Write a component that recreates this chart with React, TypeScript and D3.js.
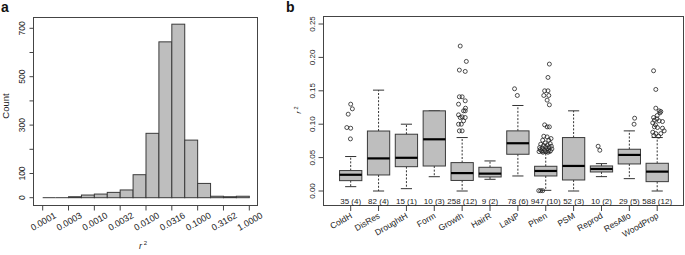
import React from 'react';
import * as d3 from 'd3';

// ---------- Panel a: histogram of r^2 (log10 bins) ----------
const binEdgesLog = [-4, -3.75, -3.5, -3.25, -3, -2.75, -2.5, -2.25, -2, -1.75, -1.5, -1.25, -1, -0.75, -0.5, -0.25, 0];
const histCounts = [0, 0, 4, 11, 15, 22, 32, 95, 266, 644, 717, 238, 59, 6, 4, 6];
const xTickLogA = [-4, -3.5, -3, -2.5, -2, -1.5, -1, -0.5, 0];
const xTickLabelsA = ['0.0001', '0.0003', '0.0010', '0.0032', '0.0100', '0.0316', '0.1000', '0.3162', '1.0000'];
const yTicksA = [0, 100, 200, 300, 400, 500, 600, 700];
const yTickLabelsA = ['0', '100', '', '300', '', '500', '', '700'];

// ---------- Panel b: boxplots by trait category ----------
const categories = ['ColdH', 'DisRes', 'DroughtH', 'Form', 'Growth', 'HairR', 'LaNP', 'Phen', 'PSM', 'Reprod', 'ResAllo', 'WoodProp'];
const nLabels = ['35 (4)', '82 (4)', '15 (1)', '10 (3)', '258 (12)', '9 (2)', '78 (6)', '947 (10)', '52 (3)', '10 (2)', '29 (5)', '588 (12)'];
const whiskerLow = [0.0065, 0.0, 0.0035, 0.0214, 0.0, 0.0175, 0.0225, 0.001, 0.0, 0.0215, 0.0185, 0.0];
const q1 = [0.0155, 0.024, 0.0364, 0.0374, 0.0158, 0.021, 0.055, 0.0225, 0.0165, 0.0285, 0.0405, 0.014];
const medians = [0.0243, 0.0488, 0.0497, 0.0774, 0.0268, 0.026, 0.0715, 0.030, 0.0375, 0.033, 0.054, 0.029];
const q3 = [0.0306, 0.0898, 0.085, 0.120, 0.0425, 0.0355, 0.090, 0.037, 0.080, 0.0375, 0.0625, 0.0415];
const whiskerHigh = [0.0516, 0.151, 0.100, 0.120, 0.080, 0.045, 0.128, 0.057, 0.120, 0.041, 0.090, 0.080];

// outliers per category: [value, horizontal jitter in category units]
const outColdH = [[0.130, 0.0], [0.123, 0.06], [0.115, -0.09], [0.095, -0.14], [0.094, 0.0], [0.078, -0.01]];
const outDisRes: number[][] = [];
const outDroughtH: number[][] = [];
const outForm: number[][] = [];
const outGrowth = [
  [0.217, -0.07], [0.194, 0.15], [0.181, -0.1], [0.179, 0.11], [0.141, -0.1], [0.141, 0.0], [0.135, 0.11],
  [0.130, -0.13], [0.124, 0.12], [0.120, 0.11], [0.120, 0.05], [0.114, -0.13], [0.111, 0.0], [0.110, 0.11],
  [0.110, -0.07], [0.105, 0.05], [0.100, -0.13], [0.100, -0.03], [0.090, -0.1], [0.090, 0.0],
];
const outHairR: number[][] = [];
const outLaNP = [[0.153, -0.12], [0.143, -0.02]];
const outPhen = [
  [0.190, 0.13], [0.170, 0.08], [0.150, -0.04], [0.150, 0.08], [0.143, -0.07], [0.143, 0.11], [0.136, 0.05],
  [0.129, 0.13], [0.099, -0.04], [0.096, 0.05], [0.096, 0.13], [0.082, -0.07], [0.081, 0.05], [0.0785, 0.19],
  [0.076, -0.11], [0.076, 0.11], [0.072, -0.02], [0.071, 0.16], [0.070, -0.18], [0.069, 0.06], [0.068, -0.08],
  [0.067, 0.2], [0.066, 0.0], [0.065, -0.22], [0.065, 0.12], [0.064, -0.12], [0.063, 0.04], [0.063, 0.22],
  [0.062, -0.2], [0.061, -0.05], [0.061, 0.1], [0.060, -0.15], [0.060, 0.17], [0.059, 0.0], [0.059, -0.24],
  [0.058, 0.08], [0.058, -0.1], [0.0005, -0.25], [0.0005, -0.18], [0.0005, -0.11],
];
const outPSM: number[][] = [];
const outReprod = [[0.067, -0.12], [0.061, -0.06]];
const outResAllo = [[0.109, 0.19], [0.100, 0.17]];
const outWoodProp = [
  [0.180, -0.13], [0.152, -0.05], [0.124, -0.05], [0.120, 0.07], [0.119, 0.13], [0.117, 0.1], [0.113, 0.0],
  [0.110, -0.13], [0.108, -0.01], [0.106, -0.1], [0.105, 0.07], [0.104, 0.19], [0.102, -0.16], [0.099, -0.06],
  [0.096, -0.1], [0.095, 0.01], [0.094, 0.19], [0.090, 0.25], [0.088, -0.16], [0.086, -0.05], [0.086, 0.13],
  [0.083, -0.12], [0.082, 0.05],
];
const outliers = [outColdH, outDisRes, outDroughtH, outForm, outGrowth, outHairR, outLaNP, outPhen, outPSM, outReprod, outResAllo, outWoodProp];
const yTicksB = [0, 0.05, 0.1, 0.15, 0.2, 0.25];

const FONT = 'Liberation Sans, Arial, Helvetica, sans-serif';
const AX = '#444';

export default function App() {
  // panel a scales
  const xA = d3.scaleLinear().domain([-4, 0]).range([42.7, 249.3]);
  const yA = d3.scaleLinear().domain([0, 700]).range([197.7, 28.3]);
  // panel b scales
  const xB = d3.scaleLinear().domain([1, 12]).range([350.7, 657.2]);
  const yB = d3.scaleLinear().domain([0, 0.25]).range([191, 24]);
  const slot = xB(2) - xB(1);
  const boxW = slot * 0.8;
  const capW = boxW * 0.5;

  return (
    <svg width={685} height={255} style={{ position: 'absolute', left: 0, top: 0, background: '#fff' }} fontFamily={FONT}>
      {/* ---------- panel a ---------- */}
      <text x={1} y={12} fontSize={14} fontWeight="bold" fill="#111">a</text>
      <rect x={33.5} y={17.5} width={224} height={188} fill="none" stroke={AX} strokeWidth={1} />
      {histCounts.map((c, i) => {
        const x0 = xA(binEdgesLog[i]);
        const x1 = xA(binEdgesLog[i + 1]);
        return c === 0 ? (
          <line key={i} x1={x0} x2={x1} y1={yA(0)} y2={yA(0)} stroke="#3a3a3a" strokeWidth={1} />
        ) : (
          <rect key={i} x={x0} y={yA(c)} width={x1 - x0} height={yA(0) - yA(c)} fill="#bebebe" stroke="#3a3a3a" strokeWidth={1} />
        );
      })}
      {yTicksA.map((t, i) => (
        <g key={i}>
          <line x1={29.5} x2={33.5} y1={yA(t)} y2={yA(t)} stroke={AX} />
          {yTickLabelsA[i] && (
            <text transform={`translate(25,${yA(t)}) rotate(-90)`} textAnchor="middle" fontSize={8.5} fill="#222">{yTickLabelsA[i]}</text>
          )}
        </g>
      ))}
      <text transform="translate(9,106) rotate(-90)" textAnchor="middle" fontSize={9.5} fill="#222">Count</text>
      {xTickLogA.map((t, i) => (
        <g key={i}>
          <line x1={xA(t)} x2={xA(t)} y1={205.5} y2={210.5} stroke={AX} />
          <text transform={`translate(${xA(t) + 1},${222}) rotate(-30)`} textAnchor="middle" dominantBaseline="middle" fontSize={9} fill="#222">{xTickLabelsA[i]}</text>
        </g>
      ))}
      <text x={143} y={249} textAnchor="middle" fontSize={9} fill="#222">
        <tspan fontStyle="italic">r</tspan>
        <tspan fontSize={6} dy={-4}> 2</tspan>
      </text>

      {/* ---------- panel b ---------- */}
      <text x={286} y={12} fontSize={14} fontWeight="bold" fill="#111">b</text>
      <rect x={323.5} y={16.5} width={360} height={189} fill="none" stroke={AX} strokeWidth={1} />
      {yTicksB.map((t, i) => (
        <g key={i}>
          <line x1={318.5} x2={323.5} y1={yB(t)} y2={yB(t)} stroke={AX} />
          <text transform={`translate(314.5,${yB(t)}) rotate(-90)`} textAnchor="middle" fontSize={8} fill="#222">{t.toFixed(2)}</text>
        </g>
      ))}
      <text transform="translate(301,110) rotate(-90)" textAnchor="middle" fontSize={8} fill="#222">
        <tspan fontStyle="italic">r</tspan>
        <tspan fontSize={5.5} dy={-3.5}> 2</tspan>
      </text>
      {categories.map((c, i) => {
        const cx = xB(i + 1);
        return (
          <g key={c}>
            {/* whiskers */}
            <line x1={cx} x2={cx} y1={yB(q3[i])} y2={yB(whiskerHigh[i])} stroke="#333" strokeDasharray="2,1.6" />
            <line x1={cx} x2={cx} y1={yB(q1[i])} y2={yB(whiskerLow[i])} stroke="#333" strokeDasharray="2,1.6" />
            <line x1={cx - capW / 2} x2={cx + capW / 2} y1={yB(whiskerHigh[i])} y2={yB(whiskerHigh[i])} stroke="#333" />
            <line x1={cx - capW / 2} x2={cx + capW / 2} y1={yB(whiskerLow[i])} y2={yB(whiskerLow[i])} stroke="#333" />
            {/* box */}
            <rect x={cx - boxW / 2} y={yB(q3[i])} width={boxW} height={yB(q1[i]) - yB(q3[i])} fill="#bebebe" stroke="#3a3a3a" strokeWidth={1} />
            <line x1={cx - boxW / 2} x2={cx + boxW / 2} y1={yB(medians[i])} y2={yB(medians[i])} stroke="#000" strokeWidth={2.2} />
            {/* outliers */}
            {outliers[i].map((o, j) => (
              <circle key={j} cx={cx + o[1] * slot} cy={yB(o[0])} r={2} fill="none" stroke="#222" strokeWidth={0.8} />
            ))}
            {/* n labels */}
            <text x={cx} y={204} textAnchor="middle" fontSize={8} fill="#222">{nLabels[i]}</text>
            {/* x tick + label */}
            <line x1={cx} x2={cx} y1={205.5} y2={211} stroke={AX} />
            <text transform={`translate(${cx + 2},${217.5}) rotate(-30)`} textAnchor="end" fontSize={8.5} fill="#222">{c}</text>
          </g>
        );
      })}
    </svg>
  );
}
